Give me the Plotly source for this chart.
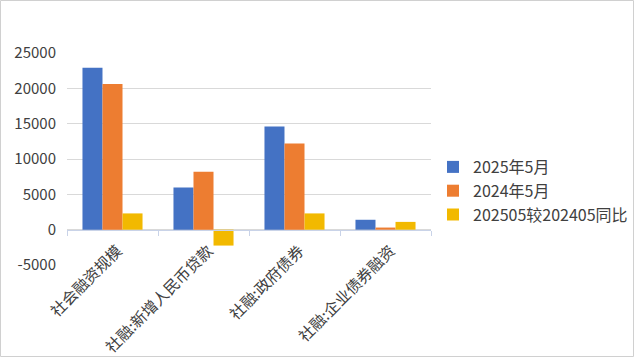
import plotly.graph_objects as go

categories = ["社会融资规模", "社融:新增人民币贷款", "社融:政府债券", "社融:企业债券融资"]
s2025 = [22900, 5950, 14600, 1400]
s2024 = [20600, 8200, 12200, 300]
s_yoy = [2300, -2250, 2300, 1100]
series_names = ["2025年5月", "2024年5月", "202505较202405同比"]
colors = ["#4472C4", "#ED7D31", "#F2B900"]
yticks = [-5000, 0, 5000, 10000, 15000, 20000, 25000]
ytick_text = ["-5000", "0", "5000", "10000", "15000", "20000", "25000"]

W, H = 635, 358
L, R, T, B = 67, 204, 53, 93
font = "Noto Sans CJK SC, Microsoft YaHei, sans-serif"

fig = go.Figure()
for name, vals, c in zip(series_names, [s2025, s2024, s_yoy], colors):
    fig.add_trace(go.Bar(x=categories, y=vals, name=name, marker=dict(color=c, line=dict(width=0))))

ymin, ymax = -5000, 25000
zero_pos = (0 - ymin) / (ymax - ymin)

fig.update_layout(
    width=W, height=H,
    margin=dict(l=L, r=R, t=T, b=B),
    paper_bgcolor="white", plot_bgcolor="white",
    barmode="group", bargap=0.34, bargroupgap=0,
    font=dict(family=font, size=14, color="#404040"),
    showlegend=True,
    legend=dict(xref="container", yref="container", x=433/W, y=1 - 150/H,
                xanchor="left", yanchor="top", font=dict(size=16, color="#404040"),
                tracegroupgap=0, itemwidth=30, bgcolor="rgba(0,0,0,0)"),
    xaxis=dict(anchor="free", position=zero_pos, showline=True, linecolor="#C9D3E8", linewidth=1,
               ticks="outside", tickson="boundaries", ticklen=5, tickcolor="#C9D3E8",
               tickangle=-45, tickfont=dict(size=15.5, color="#404040"), showgrid=False,
               ticklabelstandoff=5, ticklabelshift=5,
               automargin=False, zeroline=False),
    yaxis=dict(range=[ymin, ymax], tickvals=yticks, ticktext=ytick_text, showgrid=True,
               gridcolor="#D9D9D9", gridwidth=1,
               zeroline=False, showline=False, ticks="", ticklabelstandoff=10,
               tickfont=dict(size=15, color="#404040"), automargin=False),
    shapes=[dict(type="rect", xref="paper", yref="paper",
                 x0=(0.5 - L) / (W - L - R), x1=(W - 1.5 - L) / (W - L - R),
                 y0=-(B - 1.5) / (H - T - B), y1=1 + (T - 0.5) / (H - T - B),
                 line=dict(color="#D0D0D0", width=1), layer="below")],
)

fig.write_html("out.html", config={"displayModeBar": False},
               post_script="document.body.style.margin='0';document.body.style.overflow='hidden';")
